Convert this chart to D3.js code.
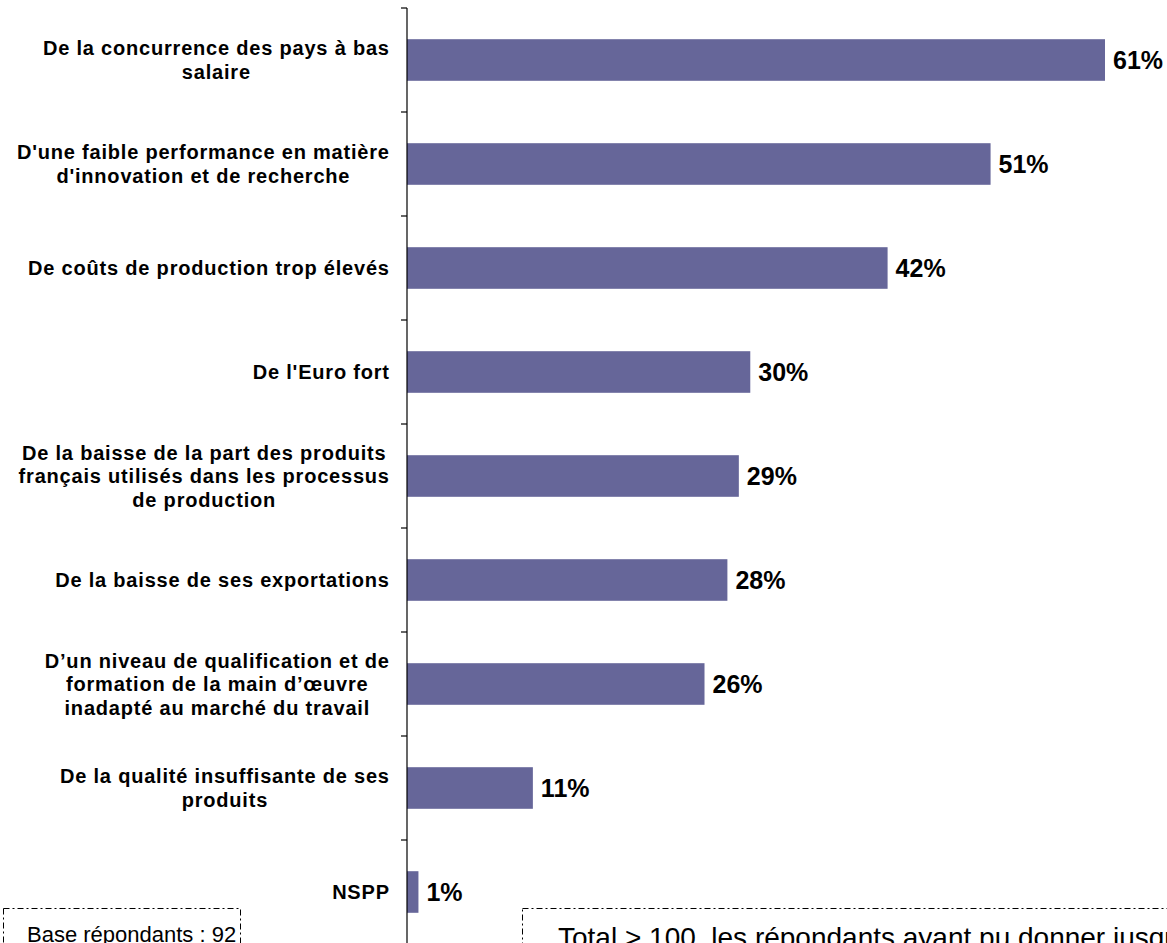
<!DOCTYPE html>
<html>
<head>
<meta charset="utf-8">
<script src="https://cdn.jsdelivr.net/npm/d3@7"></script>
<style>
  body { margin: 0; background: #fff; }
  svg { display: block; font-family: "Liberation Sans", Arial, sans-serif; }
</style>
</head>
<body>
<div id="chart"></div>
<script>
// Data
var categories = [
  ["De la concurrence des pays à bas", "salaire"],
  ["D'une faible performance en matière", "d'innovation et de recherche"],
  ["De coûts de production trop élevés"],
  ["De l'Euro fort"],
  ["De la baisse de la part des produits", "français utilisés dans les processus", "de production"],
  ["De la baisse de ses exportations"],
  ["D’un niveau de qualification et de", "formation de la main d’œuvre", "inadapté au marché du travail"],
  ["De la qualité insuffisante de ses", "produits"],
  ["NSPP"]
];
var values = [61, 51, 42, 30, 29, 28, 26, 11, 1];
var valueLabels = ["61%", "51%", "42%", "30%", "29%", "28%", "26%", "11%", "1%"];
var baseNote = "Base répondants : 92";
var totalNote = "Total > 100, les répondants ayant pu donner jusqu'à trois réponses";

var width = 1167;
var height = 943;
var axisX = 407;

var svg = d3.select("#chart")
  .append("svg")
  .attr("width", width)
  .attr("height", height);

// Scales
var x = d3.scaleLinear()
  .domain([0, 61])
  .range([axisX, 1105]);

var y = d3.scaleBand()
  .domain(d3.range(categories.length))
  .range([8, 8 + 104 * categories.length])
  .paddingInner(0.6)
  .paddingOuter(0.3);

// Bars
svg.selectAll("rect.bar")
  .data(values)
  .enter()
  .append("rect")
  .attr("class", "bar")
  .attr("x", x(0))
  .attr("y", function(d, i) { return y(i); })
  .attr("width", function(d) { return x(d) - x(0); })
  .attr("height", y.bandwidth())
  .attr("fill", "#666699");

// Value labels
svg.selectAll("text.val")
  .data(values)
  .enter()
  .append("text")
  .attr("class", "val")
  .attr("x", function(d) { return x(d) + 8; })
  .attr("y", function(d, i) { return y(i) + y.bandwidth() / 2; })
  .attr("dy", "0.36em")
  .attr("font-size", 25)
  .attr("font-weight", "bold")
  .attr("fill", "#000")
  .text(function(d, i) { return valueLabels[i]; });

// Axis: ticks between categories
var step = y.step();
var tickYs = d3.range(categories.length + 1).map(function(i) { return 8 + step * i; });
svg.append("line")
  .attr("x1", axisX).attr("x2", axisX)
  .attr("y1", 8).attr("y2", height)
  .attr("stroke", "#000")
  .attr("stroke-width", 1.2);
svg.selectAll("line.tick")
  .data(tickYs)
  .enter()
  .append("line")
  .attr("class", "tick")
  .attr("x1", axisX - 6).attr("x2", axisX)
  .attr("y1", function(d) { return d; })
  .attr("y2", function(d) { return d; })
  .attr("stroke", "#000")
  .attr("stroke-width", 1.2);

// Category labels: block right-aligned, lines centred inside it
var lineH = 23.5;
var ls = 0.8;
categories.forEach(function(lines, i) {
  var g = svg.append("g");
  var cy = y(i) + y.bandwidth() / 2;
  var texts = lines.map(function(l, k) {
    return g.append("text")
      .attr("y", cy + (k - (lines.length - 1) / 2) * lineH)
      .attr("dy", "0.36em")
      .attr("font-size", 20)
      .attr("font-weight", "bold")
      .attr("letter-spacing", ls)
      .attr("text-anchor", "middle")
      .text(l);
  });
  var maxW = d3.max(texts, function(t) { return t.node().getComputedTextLength(); });
  texts.forEach(function(t) { t.attr("x", 389 + ls - maxW / 2); });
});

// Notes at bottom
svg.append("rect")
  .attr("x", 3.5).attr("y", 908.5)
  .attr("width", 237).attr("height", 60)
  .attr("fill", "none")
  .attr("stroke", "#000")
  .attr("stroke-dasharray", "6,3,2,3");
svg.append("text")
  .attr("x", 27).attr("y", 942)
  .attr("font-size", 22)
  .text(baseNote);

svg.append("rect")
  .attr("x", 522.5).attr("y", 908.5)
  .attr("width", 800).attr("height", 60)
  .attr("fill", "none")
  .attr("stroke", "#000")
  .attr("stroke-dasharray", "6,3,2,3");
svg.append("text")
  .attr("x", 558).attr("y", 947)
  .attr("font-size", 28)
  .text(totalNote);
</script>
</body>
</html>
